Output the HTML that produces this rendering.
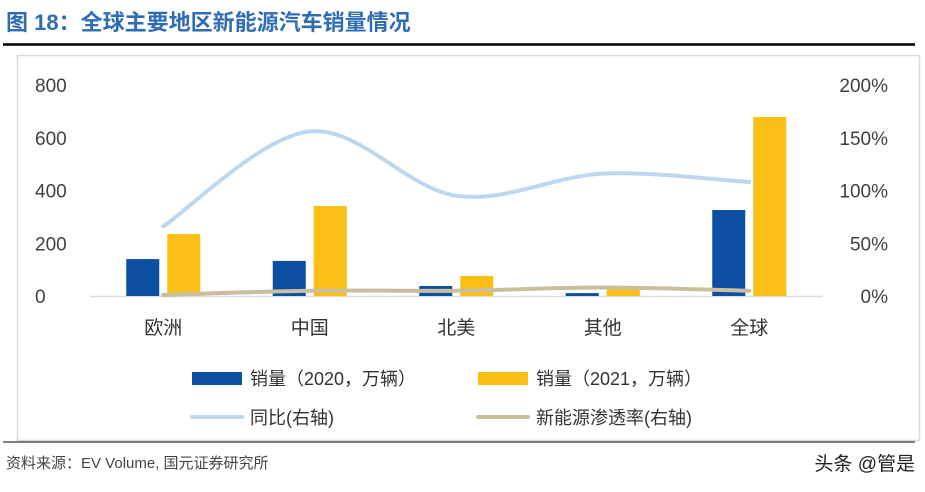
<!DOCTYPE html>
<html><head><meta charset="utf-8"><style>
body{margin:0;width:925px;height:487px;background:#fff;overflow:hidden;font-family:"Liberation Sans","Noto Sans CJK SC",sans-serif}
</style></head><body>
<svg width="925" height="487" xmlns="http://www.w3.org/2000/svg">
<text x="6" y="30" font-size="22" font-weight="bold" fill="#2e6db4" font-family="Liberation Sans,Noto Sans CJK SC,sans-serif">图 18：全球主要地区新能源汽车销量情况</text>
<line x1="3" y1="44.5" x2="915" y2="44.5" stroke="#000" stroke-width="2.5"/>
<rect x="17.5" y="55.5" width="902" height="385" fill="none" stroke="#d9d9d9" stroke-width="1.5"/>
<line x1="3" y1="442" x2="915" y2="442" stroke="#000" stroke-width="1"/>
<g id="plot"></g>
<g font-size="18" fill="#333" font-family="Liberation Sans,Noto Sans CJK SC,sans-serif">
<rect x="192" y="372" width="50" height="13" fill="#0d4fa3"/>
<text x="250" y="385">销量（2020，万辆）</text>
<rect x="478" y="372" width="50" height="13" fill="#fbbe14"/>
<text x="536" y="385">销量（2021，万辆）</text>
<line x1="192" y1="417" x2="242" y2="417" stroke="#bdd7ee" stroke-width="4" stroke-linecap="round"/>
<text x="250" y="424">同比(右轴)</text>
<line x1="478" y1="417" x2="528" y2="417" stroke="#c9bf9f" stroke-width="4" stroke-linecap="round"/>
<text x="536" y="424">新能源渗透率(右轴)</text>
</g>
<text x="6" y="468" font-size="15" fill="#444">资料来源：EV Volume, 国元证券研究所</text>
<text x="915" y="470" font-size="19" fill="#222" text-anchor="end">头条 @管是</text>
</svg>
<script>
const categories=["欧洲","中国","北美","其他","全球"];
const sales2020=[140,133,38,11,326];
const sales2021=[235,341,76,30,679];
const yoy=[66,156,95,116,108];
const penetration=[1,5,5,8,5];
const leftTicks=[0,200,400,600,800];
const rightTicks=[0,50,100,150,200];
const NS="http://www.w3.org/2000/svg";
const g=document.getElementById('plot');
const y0=296,y1=85,x0=90,step=146.5;
const yL=v=>y0-(v/800)*(y0-y1);
const yR=v=>y0-(v/200)*(y0-y1);
const xC=i=>x0+step*(i+0.5);
function mk(t,a){const e=document.createElementNS(NS,t);for(const k in a)e.setAttribute(k,a[k]);g.appendChild(e);return e;}
leftTicks.forEach(v=>{const t=mk('text',{x:35,y:yL(v)+7,'font-size':19,fill:'#404040'});t.textContent=v;

});
rightTicks.forEach(v=>{const t=mk('text',{x:888,y:yR(v)+7,'font-size':19,fill:'#404040','text-anchor':'end'});t.textContent=v+'%';

});
const ax=mk('line',{x1:x0,y1:y0+0.5,x2:x0+step*5,y2:y0+0.5,stroke:'#d9d9d9','stroke-width':1.5});


categories.forEach((c,i)=>{
const b1=mk('rect',{x:xC(i)-37,y:yL(sales2020[i]),width:33,height:y0-yL(sales2020[i]),fill:'#0d4fa3'});


const b2=mk('rect',{x:xC(i)+4,y:yL(sales2021[i]),width:33,height:y0-yL(sales2021[i]),fill:'#fbbe14'});


const t=mk('text',{x:xC(i),y:334,'font-size':19,fill:'#333','text-anchor':'middle'});t.textContent=c;


});
function smooth(vals){const p=vals.map((v,i)=>[xC(i),yR(v)]);let d='M'+p[0][0]+','+p[0][1];
for(let i=0;i<p.length-1;i++){const a=p[Math.max(i-1,0)],b=p[i],c=p[i+1],e=p[Math.min(i+2,p.length-1)];
const c1=[b[0]+(c[0]-a[0])/6,b[1]+(c[1]-a[1])/6],c2=[c[0]-(e[0]-b[0])/6,c[1]-(e[1]-b[1])/6];
d+=' C'+c1+' '+c2+' '+c;}return d;}
const l1=mk('path',{d:smooth(yoy),fill:'none',stroke:'#bdd7ee','stroke-width':4,'stroke-linecap':'round'});


const l2=mk('path',{d:smooth(penetration),fill:'none',stroke:'#c9bf9f','stroke-width':4,'stroke-linecap':'round'});


</script>
</body></html>
